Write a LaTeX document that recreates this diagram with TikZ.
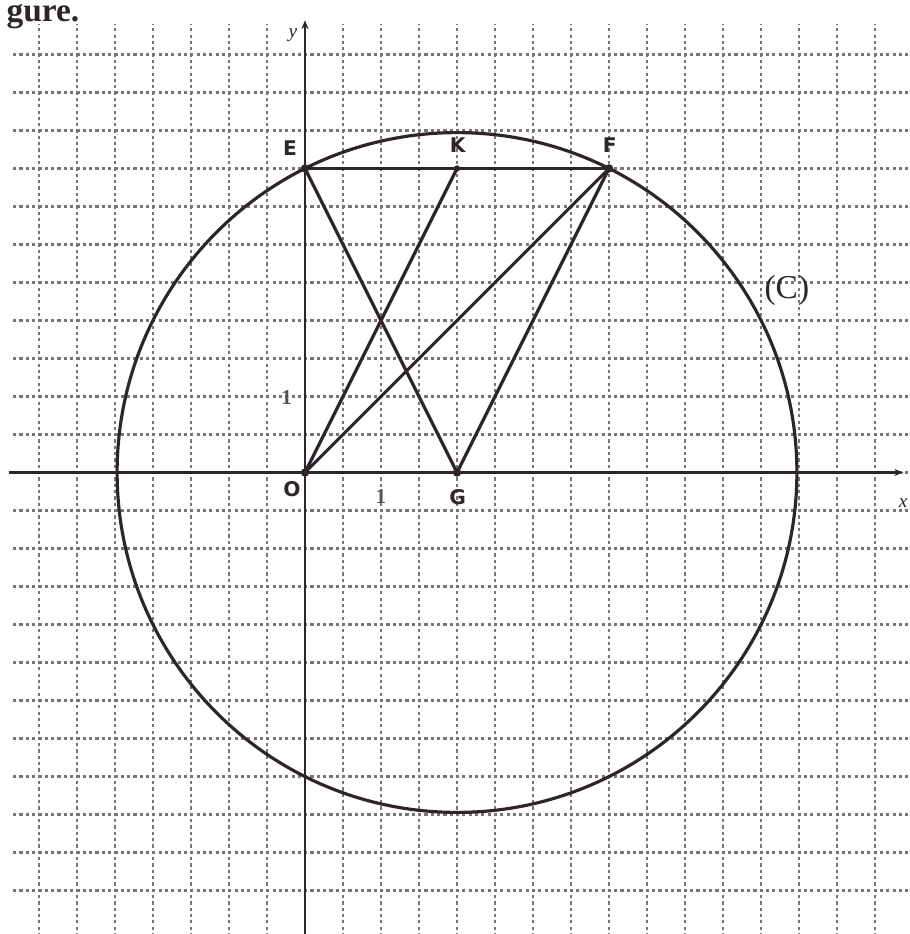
\documentclass[tikz,border=0pt]{standalone}
\usepackage{fontspec}
\setmainfont{Liberation Serif}
\newfontfamily\labfont{DejaVu Sans}
\usetikzlibrary{arrows.meta}
\definecolor{ink}{RGB}{45,36,44}
\definecolor{gridc}{RGB}{118,118,118}
\begin{document}
\begin{tikzpicture}[x=1.52cm,y=1.52cm,
  gridline/.style={gridc, line width=1.5pt, dash pattern=on 1.8pt off 1.8pt},
  mainline/.style={ink, line width=1.8pt, line join=round, line cap=round},
  axisline/.style={ink, line width=1.6pt},
  ptlabel/.style={font=\labfont\bfseries\fontsize{11.5}{12}\selectfont, text=ink, inner sep=0pt},
  numlabel/.style={font=\bfseries\fontsize{12}{13}\selectfont, text=ink!80, inner sep=0pt},
  axlabel/.style={font=\itshape\fontsize{11}{12}\selectfont, text=ink, inner sep=0pt},
  ptdot/.style={fill=ink}]
\useasboundingbox (-4.013,-6.072) rectangle (7.947,6.217);
\fill[white] (-4.013,-6.072) rectangle (7.947,6.217);
% heading text (cropped in the original)
\node[font=\bfseries\fontsize{19}{21}\selectfont, text=ink, inner sep=0pt, anchor=base west] (head) at (-3.93,5.93) {gure.};
% grid
\foreach \x in {-3.5,-3,...,7.5} {\draw[gridline] (\x,-6.1) -- (\x,5.9);}
\foreach \y in {-5.5,-5,...,5.5} {\draw[gridline] (-3.84,\y) -- (7.95,\y);}
% axes
\coordinate (xs) at (-3.9,0);
\coordinate (xe) at (7.87,0);
\coordinate (ys) at (0,-6.1);
\coordinate (ye) at (0,5.95);
\draw[axisline,-{Stealth[length=5pt,width=4pt]}] (xs) -- (xe);
\draw[axisline,-{Stealth[length=5pt,width=4pt]}] (ys) -- (ye);
% points
\coordinate (O) at (0,0);
\coordinate (E) at (0,4);
\coordinate (K) at (2,4);
\coordinate (F) at (4,4);
\coordinate (G) at (2,0);
% circle (C)
\draw[mainline] (G) circle ({sqrt(20)});
% segments
\draw[mainline] (E) -- (F);
\draw[mainline] (E) -- (G) -- (F);
\draw[mainline] (O) -- (F);
\draw[mainline] (O) -- (K);
% vertex dots
\foreach \p in {E,F,O,G} {\fill[ptdot] (\p) circle (2.4pt);}
\fill[ptdot] (K) circle (1.8pt);
% labels
\node[ptlabel] (lE) at (-0.197,4.27) {E};
\node[ptlabel] (lK) at (2.01,4.31) {K};
\node[ptlabel] (lF) at (4.01,4.31) {F};
\node[ptlabel] (lO) at (-0.17,-0.22) {O};
\node[ptlabel] (lG) at (2.01,-0.32) {G};
\node[numlabel] (l1x) at (1.0,-0.32) {1};
\node[numlabel] (l1y) at (-0.24,0.98) {1};
\node[axlabel] (lx) at (7.87,-0.40) {x};
\node[axlabel] (ly) at (-0.16,5.76) {y};
\node[font=\fontsize{19}{21}\selectfont, text=ink, inner sep=0pt] (lC) at (6.34,2.40) {(C)};
\end{tikzpicture}
\end{document}
